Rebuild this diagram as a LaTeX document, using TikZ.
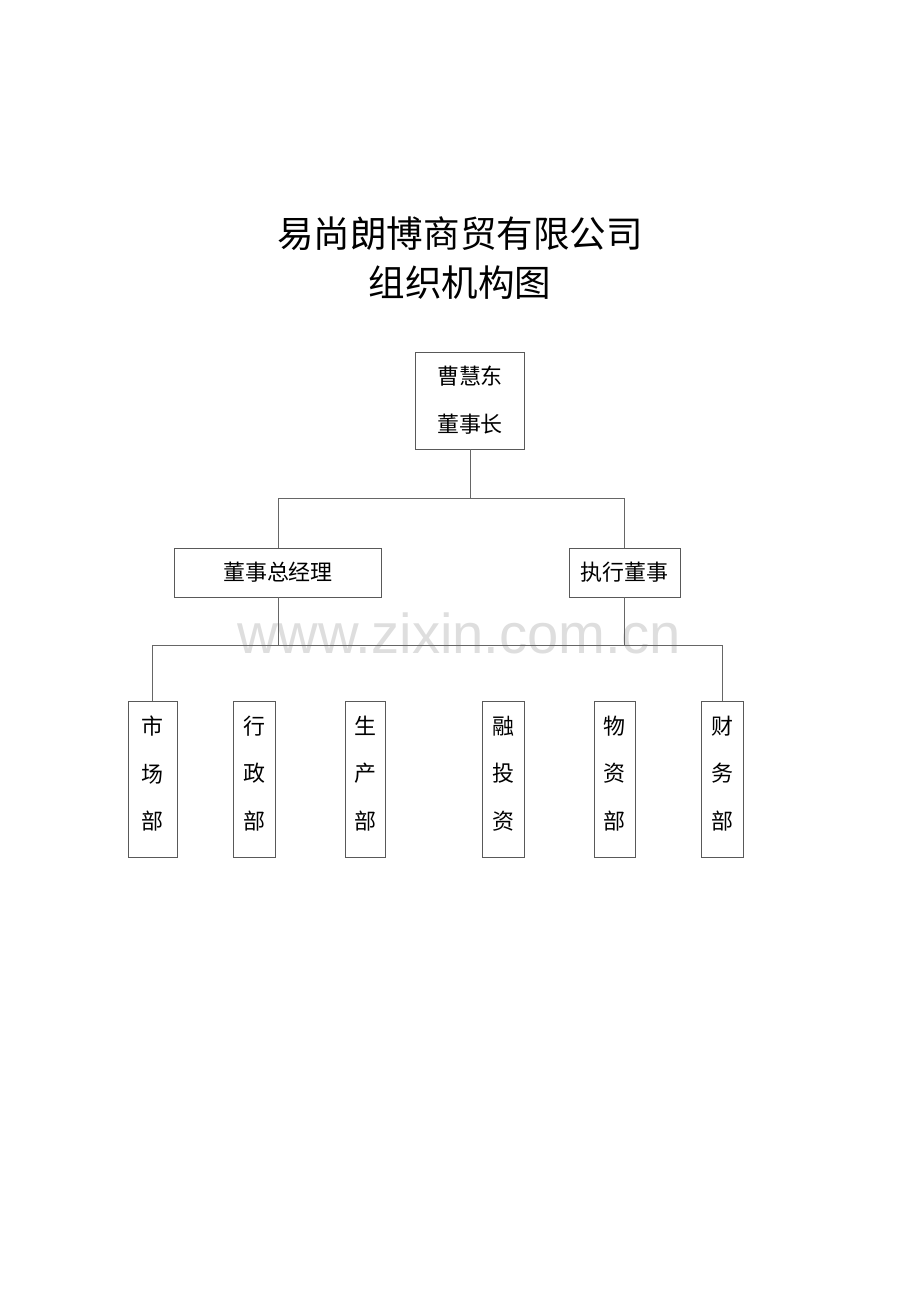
\documentclass[tikz,border=0pt]{standalone}
\usepackage{fontspec}
\newfontfamily\cjk{Noto Sans CJK SC}
\newfontfamily\wmfont{Liberation Sans}
\usetikzlibrary{positioning}
\tikzset{
  orgbox/.style={draw=black!65, line width=0.55pt, fill=white, inner sep=0pt, align=center,
    font={\cjk\fontsize{12.5}{27.2}\selectfont}},
  deptbox/.style={orgbox, minimum height=3.12cm},
  orgline/.style={draw=black!60, line width=0.55pt}
}

\begin{document}
\begin{tikzpicture}[x=0.02cm, y=-0.02cm]
  %%%%% START %%%%%
  \useasboundingbox (0,0) rectangle (920,1302);

  % title
  \node[font={\cjk\fontsize{20.8}{27.8}\selectfont}, align=center] (title) at (460,258)
    {易尚朗博商贸有限公司\\组织机构图};

  % watermark
  \node[text=black!13, font={\wmfont\fontsize{32}{32}\selectfont}] (mark) at (459,633) {www.zixin.com.cn};

  % top
  \node[orgbox, minimum width=2.18cm, minimum height=1.94cm] (chair) at (470,400.5) {曹慧东\\董事长};

  % second level
  \node[orgbox, minimum width=4.14cm, minimum height=0.98cm] (gm) at (278,572.5) {董事总经理};
  \node[orgbox, minimum width=2.22cm, minimum height=0.98cm] (exec) at (624.5,572.5) {执行董事};

  % departments (last empty line lifts the text a little)
  \node[deptbox, minimum width=0.98cm] (mkt) at (152.5,779) {市\\场\\部\\[-20pt]~};
  \node[deptbox, minimum width=0.84cm] (admin) at (254,779) {行\\政\\部\\[-20pt]~};
  \node[deptbox, minimum width=0.80cm] (prod) at (365,779) {生\\产\\部\\[-20pt]~};
  \node[deptbox, minimum width=0.84cm] (invest) at (503,779) {融\\投\\资\\[-20pt]~};
  \node[deptbox, minimum width=0.82cm] (supply) at (614.5,779) {物\\资\\部\\[-20pt]~};
  \node[deptbox, minimum width=0.84cm] (fin) at (722,779) {财\\务\\部\\[-20pt]~};

  % connectors
  \coordinate (bus1) at (0,498);
  \coordinate (bus2) at (0,645);
  \draw[orgline] (chair.south) -- (chair.south |- bus1);
  \draw[orgline] (gm.north) -- (gm.north |- bus1) -- (exec.north |- bus1) -- (exec.north);
  \draw[orgline] (gm.south) -- (gm.south |- bus2);
  \draw[orgline] (exec.south) -- (exec.south |- bus2);
  \draw[orgline] (mkt.north) -- (mkt.north |- bus2) -- (fin.north |- bus2) -- (fin.north);
  %%%%% END %%%%%
\end{tikzpicture}
\end{document}
